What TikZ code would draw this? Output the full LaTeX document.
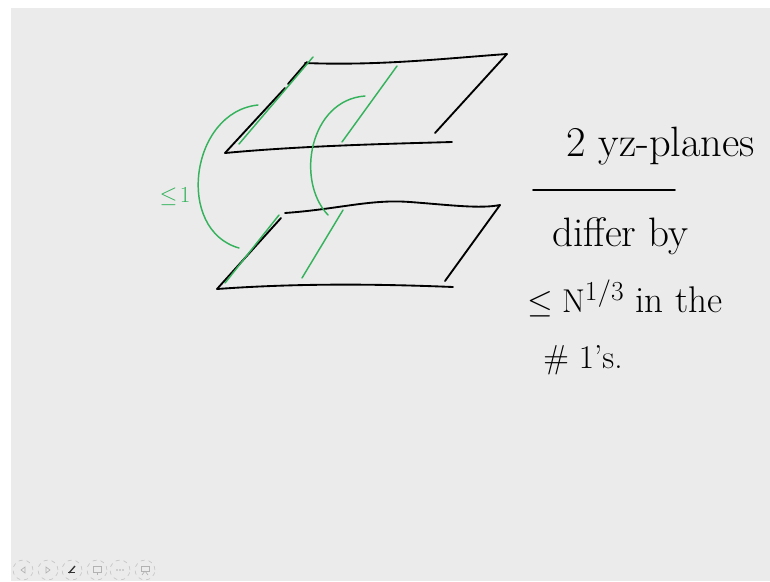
\documentclass[tikz,border=0pt]{standalone}
\usepackage{amsmath,amssymb}
\usetikzlibrary{calc}
\definecolor{lap}{RGB}{235,235,235}
\definecolor{toll}{RGB}{52,178,92}
\tikzset{
  ink/.style={line width=1.4pt,line cap=round,line join=round},
  grn/.style={line width=1.1pt,line cap=round,draw=toll},
  kez/.style={font=\fontsize{28}{31}\selectfont,inner sep=0pt,anchor=base west},
  gomb/.style={circle,draw=gray!45,dashed,line width=0.5pt,minimum size=15pt,inner sep=0pt},
}

\begin{document}
\begin{tikzpicture}[x=0.0265cm,y=-0.0265cm]
  \fill[white] (0,0) rectangle (770,581);
  \fill[lap] (11,8) rectangle (770,581);
  \useasboundingbox (0,0) rectangle (770,581);
  % upper plane
  \draw[ink] (305,63) .. controls (380,66) and (450,58) .. (507,54) -- (435,133);
  \draw[ink] (225,153) .. controls (300,146) and (380,144) .. (452,142);
  \draw[ink] (225,153) -- (285,88);
  \draw[ink] (288,84) -- (307,62);
  % lower plane
  \draw[ink] (285,213) .. controls (340,209) and (370,199) .. (410,202)
    .. controls (450,205) and (480,209) .. (500,205) -- (445,281);
  \draw[ink] (217,289) .. controls (300,283) and (380,284) .. (453,287);
  \draw[ink] (217,289) -- (281,218);
  % green lines and arcs
  \draw[grn] (239,144) -- (313,57);
  \draw[grn] (342,142) -- (397,66);
  \draw[grn] (225,283) -- (279,215);
  \draw[grn] (302,278) -- (343,210);
  \draw[grn] (258,105) .. controls (190,112) and (175,230) .. (239,248);
  \draw[grn] (365,96) .. controls (310,100) and (295,180) .. (328,215);
  \node[text=toll,font=\fontsize{16}{18}\selectfont,inner sep=0pt] (egy) at (175,197) {$\leq\!1$};
  % text
  \node[kez,font=\fontsize{32}{36}\selectfont] (ket) at (566,156) {2 yz-planes};
  \coordinate (va) at (533,190);
  \coordinate (vb) at (675,190);
  \draw[ink] (va) -- (vb);
  \node[kez,font=\fontsize{31}{34}\selectfont] (kul) at (552,246) {differ by};
  \node[kez] (kisebb) at (527,312) {$\leq \mathrm{N}^{1/3}$ in the};
  \node[kez,font=\fontsize{25}{28}\selectfont] (szam) at (543,368) {\# 1's.};
  % toolbar
  \foreach \i/\x in {1/23,2/48,3/72,4/97,5/120,6/145}
    \node[gomb] (b\i) at (\x,570) {};
  \draw[gray!60,line width=0.5pt] ($(b1)+(2,-3)$) -- ($(b1)+(-2,0)$) -- ($(b1)+(2,3)$) -- cycle;
  \draw[gray!60,line width=0.5pt] ($(b2)+(-2,-3)$) -- ($(b2)+(2,0)$) -- ($(b2)+(-2,3)$) -- cycle;
  \draw[black!80,line width=1pt] ($(b3)+(-3,3)$) -- ($(b3)+(3,-4)$);
  \draw[black!80,line width=0.6pt] ($(b3)+(-4,2)$) -- ($(b3)+(3,2)$);
  \draw[gray!60,line width=0.5pt] ($(b4)+(-4,-4)$) rectangle ($(b4)+(4,2)$);
  \draw[gray!60,line width=0.5pt] ($(b4)+(0,2)$) -- ($(b4)+(0,5)$);
  \foreach \d in {-3,0,3}
    \fill[gray!60] ($(b5)+(\d,0)$) circle (0.8);
  \draw[gray!60,line width=0.5pt] ($(b6)+(-4,-4)$) rectangle ($(b6)+(4,1)$);
  \draw[gray!60,line width=0.5pt] ($(b6)+(0,1)$) -- ($(b6)+(-3,5)$);
  \draw[gray!60,line width=0.5pt] ($(b6)+(0,1)$) -- ($(b6)+(3,5)$);
\end{tikzpicture}
\end{document}
